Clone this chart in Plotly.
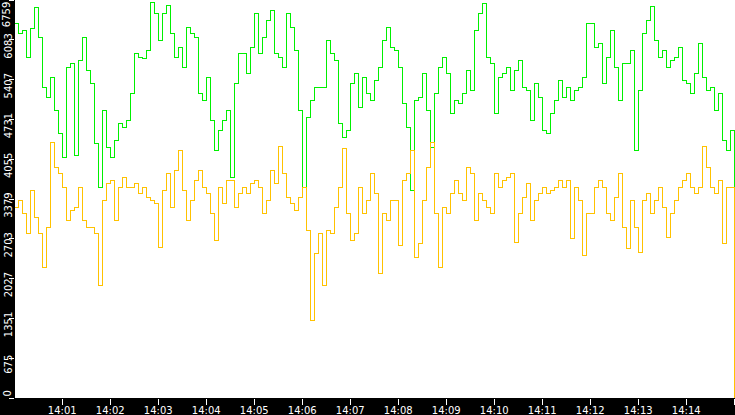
import pandas as pd
import plotly.graph_objects as go

# --- data (one sample every 5 s, 14:00:00 .. 14:15:00) ---
START = "2024-01-01 14:00:00"
STEP = "5s"

green_vals = [
    6368, 6198, 6249, 5790, 6283, 6639, 6130, 5281, 5111, 5451,
    4890, 4500, 4092, 5620, 5688, 4126, 5739, 6130, 5569, 5349,
    4330, 3583, 4890, 4262, 4092, 4381, 4670, 4602, 4720, 5179,
    5858, 5790, 5773, 5909, 6724, 6537, 6079, 6537, 6673, 6198,
    5790, 5960, 5620, 6300, 6198, 6130, 5179, 5060, 5451, 4720,
    4211, 4551, 4720, 4890, 3753, 5349, 5858, 5858, 5519, 5960,
    6537, 5858,
    6130, 6418, 6588, 5858, 5790, 5620, 6537, 6300, 5909, 4890,
    3583, 4771, 5060, 5281, 5281, 5281, 6079, 5858, 5739, 4670,
    4432, 4551, 5349, 5519, 4941, 5451, 5179, 5060, 5400, 5620,
    6079, 6300, 5960, 5909, 5620, 5009, 4602, 3532, 5060, 5111,
    5519, 4890, 4262, 5179, 5620, 5790, 5519, 4839, 5060, 5009,
    5179, 5569, 5230, 6249, 6537, 6707, 5790, 5688, 4839, 5451,
    5519, 5620, 5230, 5569, 5739, 5281, 5230, 4720, 5349, 5111,
    4551, 4500, 4839, 5060, 5400, 5111, 5281, 5060, 5230, 5281,
    5451, 6368, 6368, 5960, 6028, 5349, 5790, 6249, 5620, 5060,
    5688, 5688, 5909, 4211, 5230, 6198, 6418, 6656, 6079, 5790,
    5909, 5620, 5739, 5790, 5960, 5400, 5349, 5179, 5519, 6028,
    5451, 5230, 5281, 4890, 5179, 4381, 4211, 4551, 1630,
]

yellow_vals = [
    3243, 3362, 3141, 2802, 3532, 3073, 2802, 2224, 2904, 4347,
    3922, 3821, 3583, 3022, 3192, 3243, 3583, 3022, 2904, 2904,
    2802, 1919, 3362, 3651, 3702, 3022, 3583, 3753, 3583, 3583,
    3651, 3481, 3583, 3413, 3362, 3311, 2564, 3532, 3821, 3243,
    3871, 4211, 3532, 3022, 3362, 3702, 3871, 3583, 3481, 3141,
    2683, 3583, 3311, 3702, 3702, 3243, 3481, 3583, 3481, 3651,
    3702, 3583,
    3141, 3362, 3871, 3651, 4279, 3821, 3413, 3311, 3192, 3413,
    3583, 2853, 1324, 2462, 2802, 1919, 2853, 2802, 3243, 3583,
    4245, 3141, 2683, 2802, 3583, 3141, 3362, 3821, 3481, 2122,
    3141, 3022, 3362, 3362, 2598, 3702, 3821, 4211, 2394, 2632,
    3362, 3922, 4347, 3141, 2224, 3243, 3141, 3481, 3702, 3481,
    3362, 3922, 3821, 3022, 3481, 3362, 3243, 3141, 3821, 3583,
    3702, 3753, 3821, 2649, 3141, 3413, 3651, 3022, 3362, 3481,
    3583, 3481, 3532, 3583, 3702, 3583, 3702, 2717, 3583, 3362,
    2428, 3141, 3141, 3583, 3702, 3583, 3141, 3022, 3413, 3821,
    2904, 2547, 3362, 2904, 2479, 3362, 3481, 3141, 3362, 3583,
    3243, 2734, 3141, 3362, 3583, 3702, 3821, 3583, 3481, 3583,
    4279, 3922, 3583, 3481, 3702, 2632, 3583, 3583, 0,
]

y_tick_vals = [0, 675.9, 1351.8, 2027.7, 2703.6, 3379.5, 4055.4, 4731.3, 5407.2, 6083.1, 6759]
y_tick_text = ["0", "675", "1351", "2027", "2703", "3379", "4055", "4731", "5407", "6083", "6759"]
# the two end labels are written as annotations so they stay inside the plot height
y_axis_labels = ["" if i in (0, len(y_tick_text) - 1) else s for i, s in enumerate(y_tick_text)]

t = pd.date_range(START, periods=len(green_vals), freq=STEP)

fig = go.Figure()
fig.add_trace(go.Scatter(x=t, y=green_vals, mode="lines", line=dict(color="#00f000", width=1, shape="hv"),
                         hoverinfo="skip"))
fig.add_trace(go.Scatter(x=t, y=yellow_vals, mode="lines", line=dict(color="#ffc200", width=1, shape="hv"),
                         hoverinfo="skip"))

lab_font = dict(family="DejaVu Sans", size=10, color="white")
fig.add_annotation(text=y_tick_text[0], xref="paper", x=0, yref="y", y=y_tick_vals[0],
                   xanchor="right", yanchor="bottom", xshift=-2, textangle=-90,
                   showarrow=False, borderpad=0, font=lab_font)
fig.add_annotation(text=y_tick_text[-1], xref="paper", x=0, yref="y", y=y_tick_vals[-1],
                   xanchor="right", yanchor="top", xshift=-2, yshift=-1, textangle=-90,
                   showarrow=False, borderpad=0, font=lab_font)

fig.update_layout(
    width=735, height=415,
    margin=dict(l=15, r=0, t=0, b=17, pad=0),
    paper_bgcolor="black", plot_bgcolor="white",
    showlegend=False,
    font=dict(family="DejaVu Sans", size=10, color="white"),
    xaxis=dict(
        type="date", automargin=False,
        range=["2024-01-01 14:00:01", "2024-01-01 14:15:01"],
        dtick=60000, tickformat="%H:%M",
        showgrid=False, zeroline=False,
        ticks="outside", ticklen=6, tickcolor="white", tickwidth=1,
        ticklabelstandoff=-3,
    ),
    yaxis=dict(
        automargin=False,
        range=[0, 6762],
        tickvals=y_tick_vals, ticktext=y_axis_labels,
        tickangle=-90, ticklabelposition="outside bottom", ticklabeloverflow="allow",
        showgrid=False, zeroline=False,
        ticks="outside", ticklen=5, tickcolor="white", tickwidth=1,
        ticklabelstandoff=-2,
    ),
)

# no page margin, and pixel-crisp trace lines like the reference
js = ("document.body.style.margin='0';"
      "document.querySelectorAll('.scatterlayer path').forEach(function(p){p.style.shapeRendering='crispEdges';});")
fig.write_html("out.html", config={"displayModeBar": False}, post_script=js)
